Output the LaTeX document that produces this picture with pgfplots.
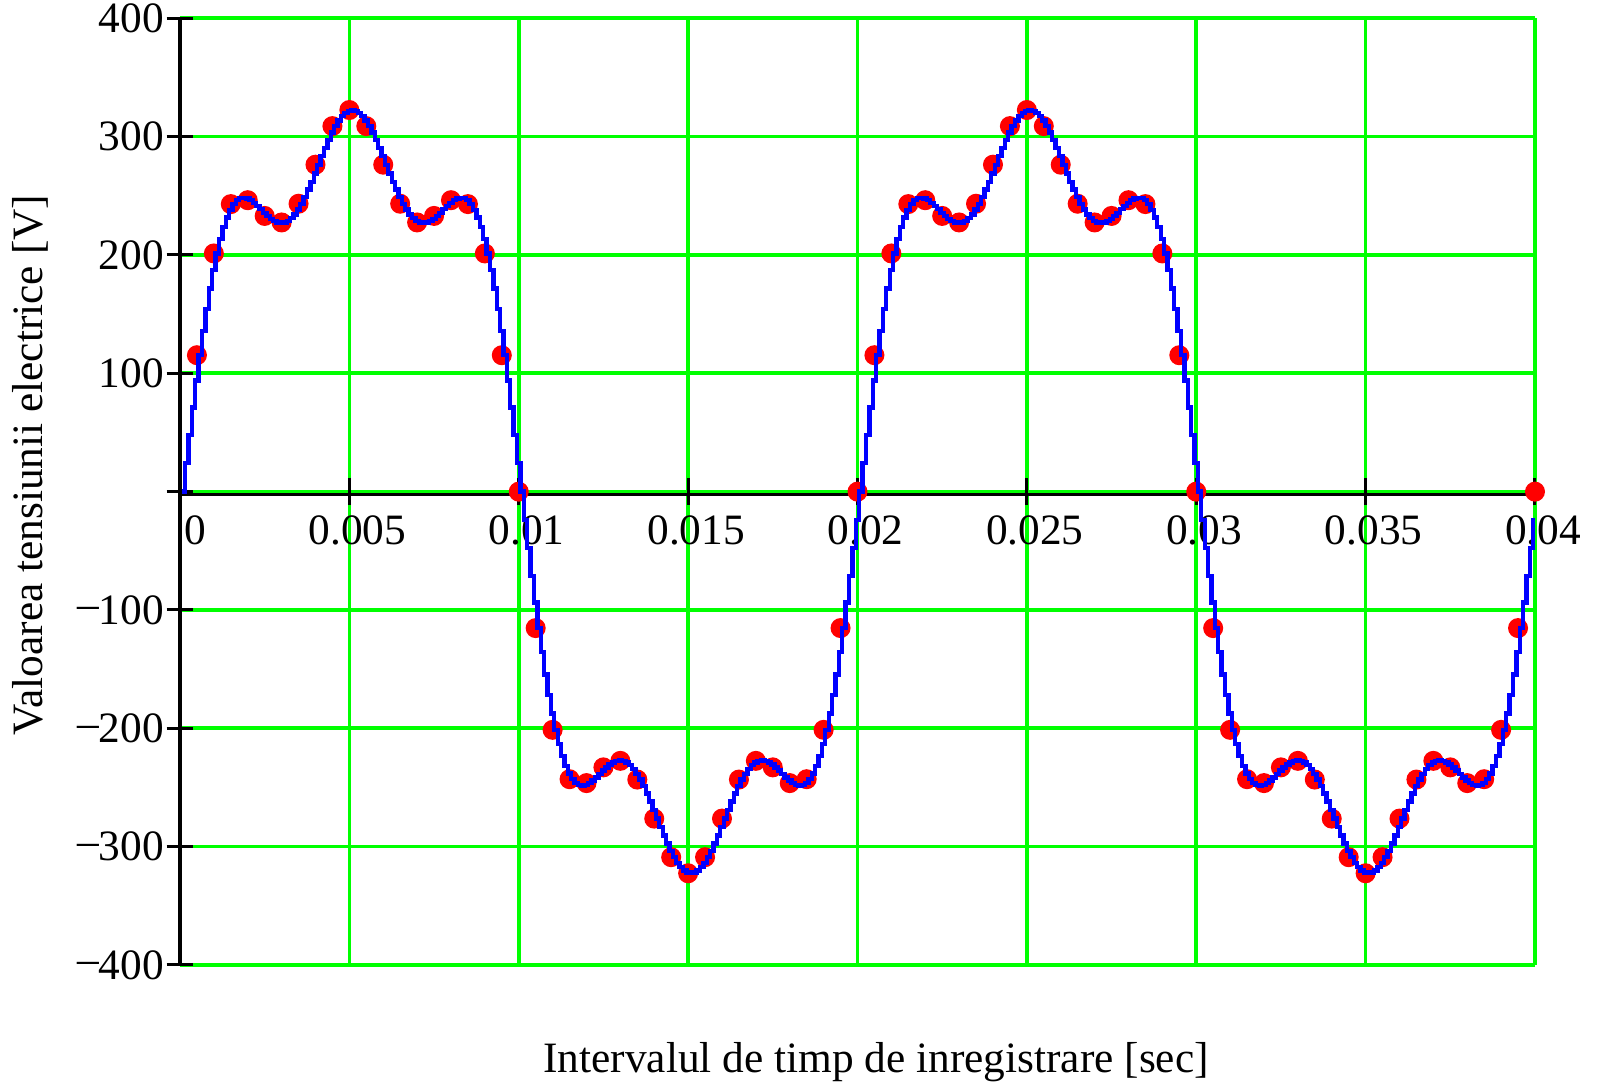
\documentclass[border=0pt]{standalone}
\usepackage{pgfplots}
\pgfplotsset{compat=1.18}
\usepackage{pgfplotstable}
\usepackage{fontspec}
\setmainfont{Liberation Serif}

\definecolor{gridgreen}{RGB}{0,255,0}
\definecolor{waveblue}{RGB}{0,0,255}
\definecolor{dotred}{RGB}{255,0,0}

\newcommand{\lbl}{\fontsize{13}{15}\selectfont}
\newcommand{\mn}{\raisebox{0.12em}{–}}

% recorded voltage, one sample every 0.1 ms (0 ... 0.04 s)
\pgfplotstableread[row sep=\\]{
v\\
0\\ 24.1\\ 47.9\\ 71.2\\ 93.8\\ 115.3\\ 135.6\\ 154.5\\ 171.8\\ 187.4\\
201.3\\ 213.3\\ 223.4\\ 231.7\\ 238.2\\ 243.0\\ 246.2\\ 247.9\\ 248.4\\ 247.8\\
246.3\\ 244.1\\ 241.5\\ 238.6\\ 235.7\\ 233.0\\ 230.6\\ 228.8\\ 227.5\\ 227.1\\
227.5\\ 228.8\\ 231.1\\ 234.3\\ 238.4\\ 243.3\\ 248.9\\ 255.2\\ 261.9\\ 269.0\\
276.3\\ 283.5\\ 290.5\\ 297.2\\ 303.4\\ 308.9\\ 313.7\\ 317.4\\ 320.2\\ 321.9\\
322.5\\ 321.9\\ 320.2\\ 317.4\\ 313.7\\ 308.9\\ 303.4\\ 297.2\\ 290.5\\ 283.5\\
276.3\\ 269.0\\ 261.9\\ 255.2\\ 248.9\\ 243.3\\ 238.4\\ 234.3\\ 231.1\\ 228.8\\
227.5\\ 227.1\\ 227.5\\ 228.8\\ 230.6\\ 233.0\\ 235.7\\ 238.6\\ 241.5\\ 244.1\\
246.3\\ 247.8\\ 248.4\\ 247.9\\ 246.2\\ 243.0\\ 238.2\\ 231.7\\ 223.4\\ 213.3\\
201.3\\ 187.4\\ 171.8\\ 154.5\\ 135.6\\ 115.3\\ 93.8\\ 71.2\\ 47.9\\ 24.1\\
0\\ -24.1\\ -47.9\\ -71.2\\ -93.8\\ -115.3\\ -135.6\\ -154.5\\ -171.8\\ -187.4\\
-201.3\\ -213.3\\ -223.4\\ -231.7\\ -238.2\\ -243.0\\ -246.2\\ -247.9\\ -248.4\\ -247.8\\
-246.3\\ -244.1\\ -241.5\\ -238.6\\ -235.7\\ -233.0\\ -230.6\\ -228.8\\ -227.5\\ -227.1\\
-227.5\\ -228.8\\ -231.1\\ -234.3\\ -238.4\\ -243.3\\ -248.9\\ -255.2\\ -261.9\\ -269.0\\
-276.3\\ -283.5\\ -290.5\\ -297.2\\ -303.4\\ -308.9\\ -313.7\\ -317.4\\ -320.2\\ -321.9\\
-322.5\\ -321.9\\ -320.2\\ -317.4\\ -313.7\\ -308.9\\ -303.4\\ -297.2\\ -290.5\\ -283.5\\
-276.3\\ -269.0\\ -261.9\\ -255.2\\ -248.9\\ -243.3\\ -238.4\\ -234.3\\ -231.1\\ -228.8\\
-227.5\\ -227.1\\ -227.5\\ -228.8\\ -230.6\\ -233.0\\ -235.7\\ -238.6\\ -241.5\\ -244.1\\
-246.3\\ -247.8\\ -248.4\\ -247.9\\ -246.2\\ -243.0\\ -238.2\\ -231.7\\ -223.4\\ -213.3\\
-201.3\\ -187.4\\ -171.8\\ -154.5\\ -135.6\\ -115.3\\ -93.8\\ -71.2\\ -47.9\\ -24.1\\
0\\ 24.1\\ 47.9\\ 71.2\\ 93.8\\ 115.3\\ 135.6\\ 154.5\\ 171.8\\ 187.4\\
201.3\\ 213.3\\ 223.4\\ 231.7\\ 238.2\\ 243.0\\ 246.2\\ 247.9\\ 248.4\\ 247.8\\
246.3\\ 244.1\\ 241.5\\ 238.6\\ 235.7\\ 233.0\\ 230.6\\ 228.8\\ 227.5\\ 227.1\\
227.5\\ 228.8\\ 231.1\\ 234.3\\ 238.4\\ 243.3\\ 248.9\\ 255.2\\ 261.9\\ 269.0\\
276.3\\ 283.5\\ 290.5\\ 297.2\\ 303.4\\ 308.9\\ 313.7\\ 317.4\\ 320.2\\ 321.9\\
322.5\\ 321.9\\ 320.2\\ 317.4\\ 313.7\\ 308.9\\ 303.4\\ 297.2\\ 290.5\\ 283.5\\
276.3\\ 269.0\\ 261.9\\ 255.2\\ 248.9\\ 243.3\\ 238.4\\ 234.3\\ 231.1\\ 228.8\\
227.5\\ 227.1\\ 227.5\\ 228.8\\ 230.6\\ 233.0\\ 235.7\\ 238.6\\ 241.5\\ 244.1\\
246.3\\ 247.8\\ 248.4\\ 247.9\\ 246.2\\ 243.0\\ 238.2\\ 231.7\\ 223.4\\ 213.3\\
201.3\\ 187.4\\ 171.8\\ 154.5\\ 135.6\\ 115.3\\ 93.8\\ 71.2\\ 47.9\\ 24.1\\
0\\ -24.1\\ -47.9\\ -71.2\\ -93.8\\ -115.3\\ -135.6\\ -154.5\\ -171.8\\ -187.4\\
-201.3\\ -213.3\\ -223.4\\ -231.7\\ -238.2\\ -243.0\\ -246.2\\ -247.9\\ -248.4\\ -247.8\\
-246.3\\ -244.1\\ -241.5\\ -238.6\\ -235.7\\ -233.0\\ -230.6\\ -228.8\\ -227.5\\ -227.1\\
-227.5\\ -228.8\\ -231.1\\ -234.3\\ -238.4\\ -243.3\\ -248.9\\ -255.2\\ -261.9\\ -269.0\\
-276.3\\ -283.5\\ -290.5\\ -297.2\\ -303.4\\ -308.9\\ -313.7\\ -317.4\\ -320.2\\ -321.9\\
-322.5\\ -321.9\\ -320.2\\ -317.4\\ -313.7\\ -308.9\\ -303.4\\ -297.2\\ -290.5\\ -283.5\\
-276.3\\ -269.0\\ -261.9\\ -255.2\\ -248.9\\ -243.3\\ -238.4\\ -234.3\\ -231.1\\ -228.8\\
-227.5\\ -227.1\\ -227.5\\ -228.8\\ -230.6\\ -233.0\\ -235.7\\ -238.6\\ -241.5\\ -244.1\\
-246.3\\ -247.8\\ -248.4\\ -247.9\\ -246.2\\ -243.0\\ -238.2\\ -231.7\\ -223.4\\ -213.3\\
-201.3\\ -187.4\\ -171.8\\ -154.5\\ -135.6\\ -115.3\\ -93.8\\ -71.2\\ -47.9\\ -24.1\\
0\\
}\wave

% model values, one every 0.5 ms
\pgfplotstableread{
t v
0.0005 115.3
0.0010 201.3
0.0015 243.0
0.0020 246.3
0.0025 233.0
0.0030 227.5
0.0035 243.3
0.0040 276.3
0.0045 308.9
0.0050 322.5
0.0055 308.9
0.0060 276.3
0.0065 243.3
0.0070 227.5
0.0075 233.0
0.0080 246.3
0.0085 243.0
0.0090 201.3
0.0095 115.3
0.0100 0
0.0105 -115.3
0.0110 -201.3
0.0115 -243.0
0.0120 -246.3
0.0125 -233.0
0.0130 -227.5
0.0135 -243.3
0.0140 -276.3
0.0145 -308.9
0.0150 -322.5
0.0155 -308.9
0.0160 -276.3
0.0165 -243.3
0.0170 -227.5
0.0175 -233.0
0.0180 -246.3
0.0185 -243.0
0.0190 -201.3
0.0195 -115.3
0.0200 0
0.0205 115.3
0.0210 201.3
0.0215 243.0
0.0220 246.3
0.0225 233.0
0.0230 227.5
0.0235 243.3
0.0240 276.3
0.0245 308.9
0.0250 322.5
0.0255 308.9
0.0260 276.3
0.0265 243.3
0.0270 227.5
0.0275 233.0
0.0280 246.3
0.0285 243.0
0.0290 201.3
0.0295 115.3
0.0300 0
0.0305 -115.3
0.0310 -201.3
0.0315 -243.0
0.0320 -246.3
0.0325 -233.0
0.0330 -227.5
0.0335 -243.3
0.0340 -276.3
0.0345 -308.9
0.0350 -322.5
0.0355 -308.9
0.0360 -276.3
0.0365 -243.3
0.0370 -227.5
0.0375 -233.0
0.0380 -246.3
0.0385 -243.0
0.0390 -201.3
0.0395 -115.3
0.0400 0
}\model

\begin{document}
\begin{tikzpicture}
\path[use as bounding box] (-54pt,-36pt) rectangle (425.1pt,289.5pt);
\begin{axis}[
  at={(0pt,0pt)}, anchor=south west,
  scale only axis, width=406.5pt, height=284pt,
  xmin=0, xmax=0.04, ymin=-400, ymax=400,
  clip mode=individual,
  axis x line*=middle, axis y line*=left,
  x axis line style={black, line width=0.95pt, yshift=-0.95pt},
  y axis line style={black, line width=1.1pt},
  hide obscured x ticks=false, hide obscured y ticks=false,
  xtick={0,0.005,0.01,0.015,0.02,0.025,0.03,0.035,0.04},
  xticklabels={\kern4.6pt 0,0.005,0.01,0.015,0.02,0.025,0.03,0.035,0.04},
  ytick={-400,-300,-200,-100,0,100,200,300,400},
  yticklabels={\mn400,\mn300,\mn200,\mn100,{},100,200,300,400},
  scaled x ticks=false,
  tick align=center, major tick length=8pt,
  tick style={black, line width=0.9pt},
  grid=major, grid style={gridgreen, line width=1.1pt},
  tick label style={font=\lbl},
  xticklabel style={anchor=north, xshift=2.4pt, yshift=0.4pt},
  yticklabel style={anchor=east, xshift=2.7pt},
]
\addplot[only marks, mark=*, mark size=2.8pt, color=dotred, mark options={draw=dotred, fill=dotred}]
  table[x=t, y=v] {\model};
\addplot[waveblue, line width=1.3pt, const plot mark left, mark=none]
  table[x expr=\coordindex*0.0001+0.00005, y=v] {\wave};
\end{axis}
\node[font=\lbl] at (208.8pt,-29.2pt) {Intervalul de timp de inregistrare [sec]};
\node[font=\lbl, rotate=90] at (-44.8pt,150pt) {Valoarea tensiunii electrice [V]};
\end{tikzpicture}
\end{document}
